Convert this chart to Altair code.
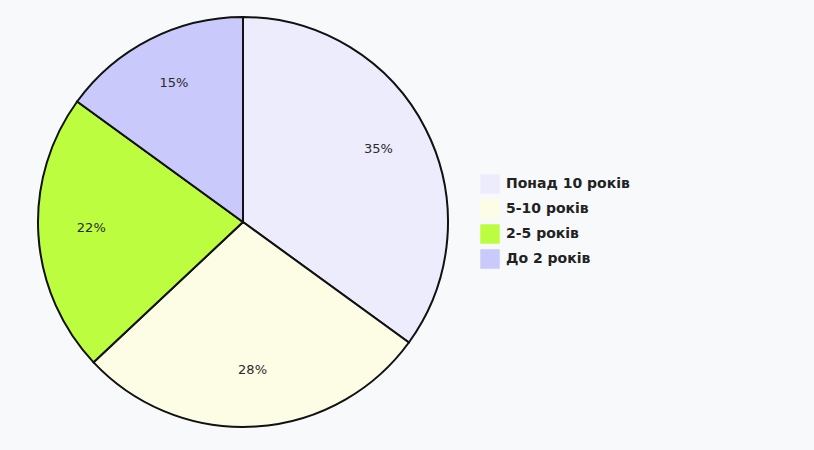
import altair as alt
import pandas as pd

categories = ["Понад 10 років", "5-10 років", "2-5 років", "До 2 років"]
values = [35, 28, 22, 15]
colors = ["#ececfd", "#fdfde6", "#bdfd3f", "#c9c9fb"]

df = pd.DataFrame({
    "cat": categories,
    "val": values,
    "idx": list(range(len(categories))),
    "label": [f"{v}%" for v in values],
})

base = alt.Chart(df).encode(
    theta=alt.Theta("val:Q", stack=True),
    order=alt.Order("idx:Q"),
)

pie = base.mark_arc(outerRadius=205, stroke="#111111", strokeWidth=2).encode(
    color=alt.Color(
        "cat:N",
        scale=alt.Scale(domain=categories, range=colors),
        sort=categories,
        legend=alt.Legend(
            title=None,
            orient="none",
            legendX=462,
            legendY=165,
            symbolType="square",
            symbolSize=380,
            symbolStrokeWidth=0,
            labelFont="DejaVu Sans",
            labelFontSize=14,
            labelFontWeight="bold",
            labelColor="#222222",
            rowPadding=5,
            labelOffset=6,
        ),
    )
)

text = base.mark_text(radius=152, dy=-4, font="DejaVu Sans", fontSize=13, color="#2a2a2a").encode(
    text="label:N"
)

chart = (pie + text).properties(
    width=450,
    height=426,
    padding={"left": 18, "top": 9, "right": 346, "bottom": 15},
    autosize=alt.AutoSizeParams(type="none"),
    background="#f8f9fa",
).configure_view(strokeWidth=0)

chart.save("out.html", embed_options={"renderer": "svg", "actions": False})
